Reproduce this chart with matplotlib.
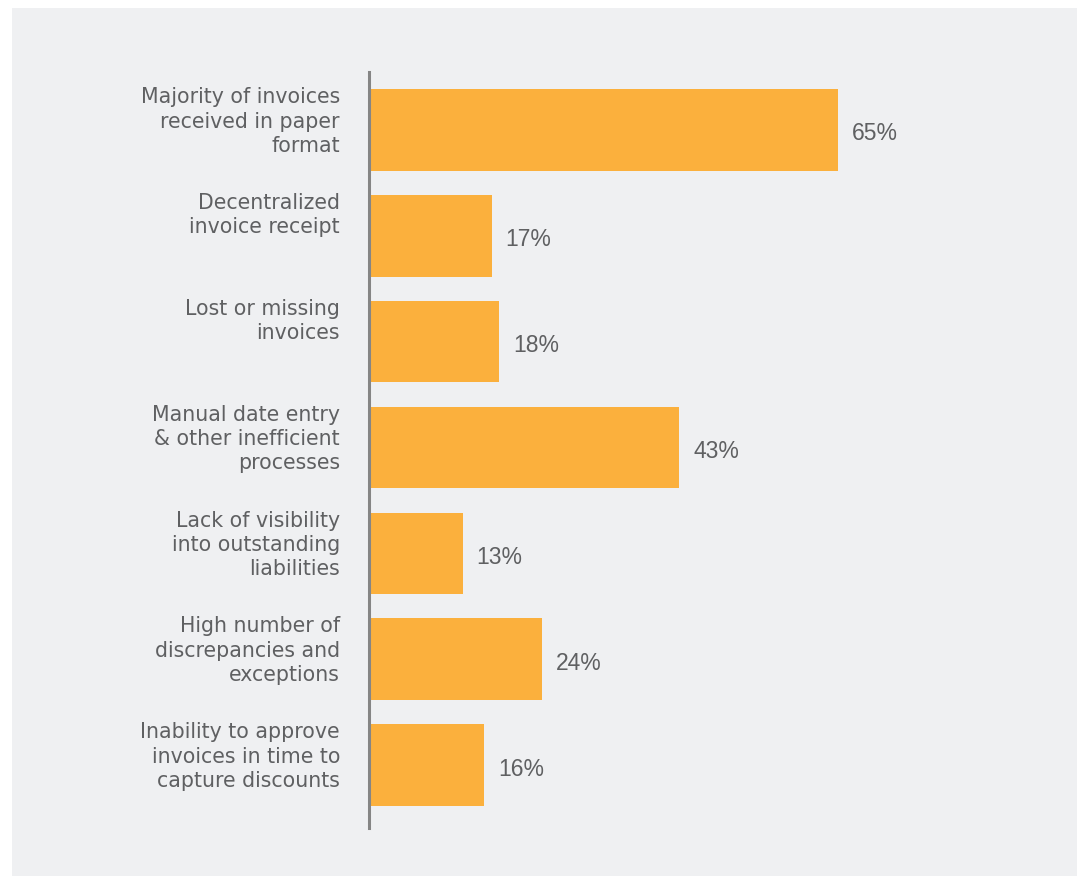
import matplotlib

matplotlib.use("Agg")
import matplotlib.pyplot as plt
from matplotlib.patches import Rectangle

categories = [
    "Majority of invoices\nreceived in paper\nformat",
    "Decentralized\ninvoice receipt",
    "Lost or missing\ninvoices",
    "Manual date entry\n& other inefficient\nprocesses",
    "Lack of visibility\ninto outstanding\nliabilities",
    "High number of\ndiscrepancies and\nexceptions",
    "Inability to approve\ninvoices in time to\ncapture discounts",
]
values = [65, 17, 18, 43, 13, 24, 16]
value_labels = ["65%", "17%", "18%", "43%", "13%", "24%", "16%"]

BAR = "#fbb03d"
PANEL = "#eff0f2"
TEXT = "#5f6062"
BAR_H = 0.77

plt.rcParams["font.family"] = ["Liberation Sans", "DejaVu Sans"]

W, H = 1080, 876
fig = plt.figure(figsize=(W / 100, H / 100), dpi=100)
fig.patch.set_facecolor("white")
# light grey panel behind the chart
fig.add_artist(Rectangle((12 / W, 0), (1077 - 12) / W, (H - 8) / H,
                         transform=fig.transFigure, facecolor=PANEL,
                         edgecolor="none", zorder=-10))

# axes: left spine at x=369, from y=72 to y=828
ax = fig.add_axes([369 / W, 1 - 828 / H, 649 / W, (828 - 72) / H])
ax.set_zorder(1)
ax.set_facecolor("none")
ys = list(range(len(values)))
ax.barh(ys, values, height=BAR_H, color=BAR, zorder=2)
ax.set_xlim(0, 90)
ax.set_ylim(6.595, -0.548)

for y, v, lab in zip(ys, values, value_labels):
    ax.annotate(lab, xy=(v, y), xytext=(14, -4), textcoords="offset pixels",
                va="center", ha="left", fontsize=16.5, color=TEXT)

# category labels: wider face to mimic the tracked type of the original
for y, cat in zip(ys, categories):
    ax.annotate(cat, xy=(0, y - BAR_H / 2), xycoords="data",
                xytext=(-29, 2), textcoords="offset pixels",
                ha="right", va="top", fontsize=14.8, color=TEXT,
                family="DejaVu Sans", linespacing=1.27,
                annotation_clip=False)

for s in ["top", "right", "bottom"]:
    ax.spines[s].set_visible(False)
ax.spines["left"].set_color("#858585")
ax.spines["left"].set_linewidth(2.2)
ax.set_xticks([])
ax.set_yticks([])

fig.savefig("out.png", dpi=100)
